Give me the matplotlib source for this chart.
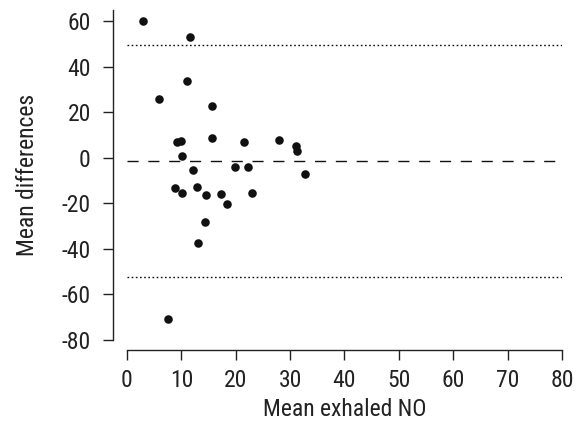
import numpy as np
import matplotlib.pyplot as plt

plt.rcParams["font.family"] = ["Roboto Condensed", "Liberation Sans", "DejaVu Sans"]
plt.rcParams["axes.unicode_minus"] = False

# Bland-Altman points
mean_no = [2.9, 11.5, 11.1, 5.9, 15.6, 9.2, 9.9, 15.6, 21.6, 28.0, 31.0, 31.3,
           10.2, 12.1, 19.8, 22.3, 32.8, 8.8, 10.1, 12.8, 14.5, 17.2, 18.4,
           23.0, 14.3, 13.1, 7.6]
mean_diff = [60.0, 53.0, 34.0, 26.0, 23.0, 7.0, 7.3, 8.8, 7.0, 7.9, 5.4, 2.9,
             0.9, -5.3, -3.9, -3.9, -7.0, -13.2, -15.4, -12.7, -16.2, -15.8,
             -20.2, -15.4, -28.1, -37.3, -70.6]
bias = -1.5
upper_loa = 49.5
lower_loa = -52.5

fig = plt.figure(figsize=(5.83, 4.23), dpi=100)
ax = fig.add_axes([0.2178, 0.1962, 0.7462, 0.7801])

ax.scatter(mean_no, mean_diff, s=38, c="#111111", zorder=3, linewidths=0)
ax.axhline(bias, color="#111111", lw=1.0, ls=(0, (8, 7)))
ax.axhline(upper_loa, color="#111111", lw=1.0, ls=(0, (1.2, 1.8)))
ax.axhline(lower_loa, color="#111111", lw=1.0, ls=(0, (1.2, 1.8)))

ax.set_xlim(0, 80)
ax.set_ylim(-80, 65)
ax.set_xticks(np.arange(0, 81, 10))
ax.set_yticks(np.arange(-80, 61, 20))

for s in ["top", "right"]:
    ax.spines[s].set_visible(False)
ax.spines["left"].set_position(("outward", 10))
ax.spines["bottom"].set_position(("outward", 7))
ax.spines["bottom"].set_bounds(0, 80)
for s in ["left", "bottom"]:
    ax.spines[s].set_linewidth(1.0)
    ax.spines[s].set_color("#222222")

ax.tick_params(axis="both", direction="out", length=7, width=1.0,
               color="#222222", labelsize=17, labelcolor="#222222")
ax.tick_params(axis="y", pad=9)
ax.tick_params(axis="x", pad=7)

ax.set_xlabel("Mean exhaled NO", fontsize=17, color="#222222", labelpad=4)
ax.set_ylabel("Mean differences", fontsize=17, color="#222222", labelpad=16)

fig.savefig("out.png", dpi=100)
